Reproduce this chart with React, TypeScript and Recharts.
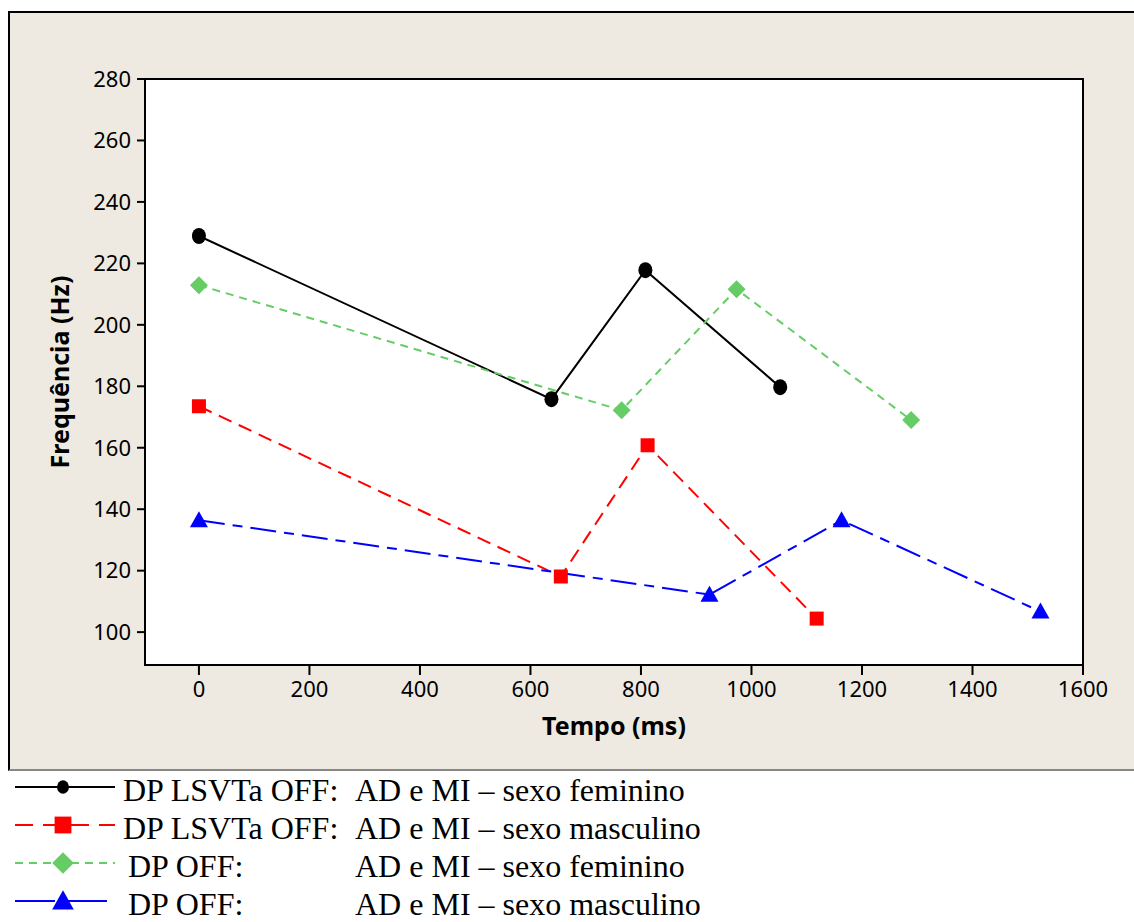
import React from 'react';
import { LineChart, Line, XAxis, YAxis, CartesianGrid, ReferenceArea } from 'recharts';

// values (tempo in ms, frequência in Hz)
const femLsvtX = [0, 638, 808, 1052];
const femLsvtY = [228.9, 175.8, 217.8, 179.7];
const mascLsvtX = [0, 655, 812, 1118];
const mascLsvtY = [173.5, 118.1, 160.8, 104.4];
const femOffX = [0, 765, 973, 1289];
const femOffY = [212.9, 172.2, 211.6, 169.0];
const mascOffX = [0, 924, 1163, 1523];
const mascOffY = [136.4, 112.2, 136.4, 106.7];

const xTicks = [0, 200, 400, 600, 800, 1000, 1200, 1400, 1600];
const yTicks = [100, 120, 140, 160, 180, 200, 220, 240, 260, 280];

const legendLeft = ['DP LSVTa OFF:', 'DP LSVTa OFF:', 'DP OFF:', 'DP OFF:'];
const legendRight = [
  'AD e MI \u2013 sexo feminino',
  'AD e MI \u2013 sexo masculino',
  'AD e MI \u2013 sexo feminino',
  'AD e MI \u2013 sexo masculino',
];

const toPoints = (xs: number[], ys: number[]) => xs.map((x, i) => ({ x, y: ys[i] }));

const series = [
  { name: 'femLsvt', data: toPoints(femLsvtX, femLsvtY), color: '#000000', dash: undefined, legendDash: undefined, marker: 'circle' },
  { name: 'mascLsvt', data: toPoints(mascLsvtX, mascLsvtY), color: '#ff0000', dash: '14 8', legendDash: '18 10', marker: 'square' },
  { name: 'femOff', data: toPoints(femOffX, femOffY), color: '#66cc66', dash: '8 6', legendDash: '8 6', marker: 'diamond' },
  { name: 'mascOff', data: toPoints(mascOffX, mascOffY), color: '#0000ff', dash: '26 8 10 8', legendDash: '40 12', marker: 'triangle' },
];

// the chart frame runs to the right edge of the window, so drop the body margin
if (typeof document !== 'undefined') document.body.style.margin = '0';

function Marker({ kind, cx, cy, color, s = 1 }: { kind: string; cx: number; cy: number; color: string; s?: number }) {
  if (kind === 'circle') return <ellipse cx={cx} cy={cy} rx={7 * s} ry={8 * s} fill={color} />;
  if (kind === 'square') return <rect x={cx - 7 * s} y={cy - 7 * s} width={14 * s} height={14 * s} fill={color} />;
  if (kind === 'diamond') {
    const d = 9 * s;
    return <polygon points={`${cx},${cy - d} ${cx + d},${cy} ${cx},${cy + d} ${cx - d},${cy}`} fill={color} />;
  }
  return <polygon points={`${cx},${cy - 9 * s} ${cx + 9 * s},${cy + 7 * s} ${cx - 9 * s},${cy + 7 * s}`} fill={color} />;
}

const tickStyle = { fontFamily: 'Noto Sans', fontSize: 22, fill: '#000' };
const labelStyle = { fontFamily: 'Noto Sans', fontSize: 25, fontWeight: 700, fill: '#000' };

export default function App() {
  return (
    <div style={{ position: 'relative', width: 1134, height: 922, overflow: 'hidden' }}>
      <div
        style={{
          position: 'absolute',
          left: 8,
          top: 11,
          width: 1124,
          height: 756,
          background: '#eeeae1',
          borderTop: '2px solid #000',
          borderLeft: '2px solid #000',
          borderBottom: '2px solid #888',
        }}
      >
        <LineChart width={1124} height={756} margin={{ top: 66, right: 51, bottom: 24, left: 35 }}>
          <CartesianGrid horizontal={false} vertical={false} fill="#ffffff" />
          <XAxis
            dataKey="x"
            type="number"
            domain={[-97.6, 1600]}
            ticks={xTicks}
            allowDataOverflow
            height={80}
            tickSize={10}
            tickMargin={6}
            tick={tickStyle}
            stroke="#000"
            strokeWidth={2}
            label={{ value: 'Tempo (ms)', position: 'insideBottom', offset: 10, style: labelStyle }}
          />
          <YAxis
            dataKey="y"
            type="number"
            domain={[89.3, 280]}
            ticks={yTicks}
            allowDataOverflow
            width={100}
            tickSize={8}
            tickMargin={6}
            tick={tickStyle}
            stroke="#000"
            strokeWidth={2}
            label={{ value: 'Frequência (Hz)', angle: -90, position: 'insideLeft', offset: 15, style: { ...labelStyle, textAnchor: 'middle' } }}
          />
          <ReferenceArea x1={-97.6} x2={1600} y1={89.3} y2={280} fill="none" fillOpacity={0} stroke="#000" strokeWidth={2} ifOverflow="visible" />
          {series.map((s) => (
            <Line
              key={s.name}
              data={s.data}
              dataKey="y"
              type="linear"
              stroke={s.color}
              strokeWidth={2}
              strokeDasharray={s.dash}
              isAnimationActive={false}
              activeDot={false}
              dot={(p: any) => <Marker key={`${s.name}-${p.index}`} kind={s.marker} cx={p.cx} cy={p.cy} color={s.color} />}
            />
          ))}
        </LineChart>
      </div>
      {series.map((s, i) => {
        const top = 776 + i * 38;
        return (
          <div key={s.name} style={{ position: 'absolute', left: 0, top, width: 1134, height: 28 }}>
            <svg width={120} height={28} style={{ position: 'absolute', left: 0, top: 0 }}>
              <line x1={15} x2={115} y1={11} y2={11} stroke={s.color} strokeWidth={2} strokeDasharray={s.legendDash} />
              <Marker kind={s.marker} cx={63} cy={11} color={s.color} s={s.marker === 'circle' ? 0.85 : 1.2} />
            </svg>
            <div style={{ position: 'absolute', left: i < 2 ? 123 : 128, top: 0, fontFamily: 'Liberation Serif', fontSize: 32, lineHeight: '28px', whiteSpace: 'pre' }}>
              {legendLeft[i]}
            </div>
            <div style={{ position: 'absolute', left: 355, top: 0, fontFamily: 'Liberation Serif', fontSize: 32, lineHeight: '28px', whiteSpace: 'pre' }}>
              {legendRight[i]}
            </div>
          </div>
        );
      })}
    </div>
  );
}
